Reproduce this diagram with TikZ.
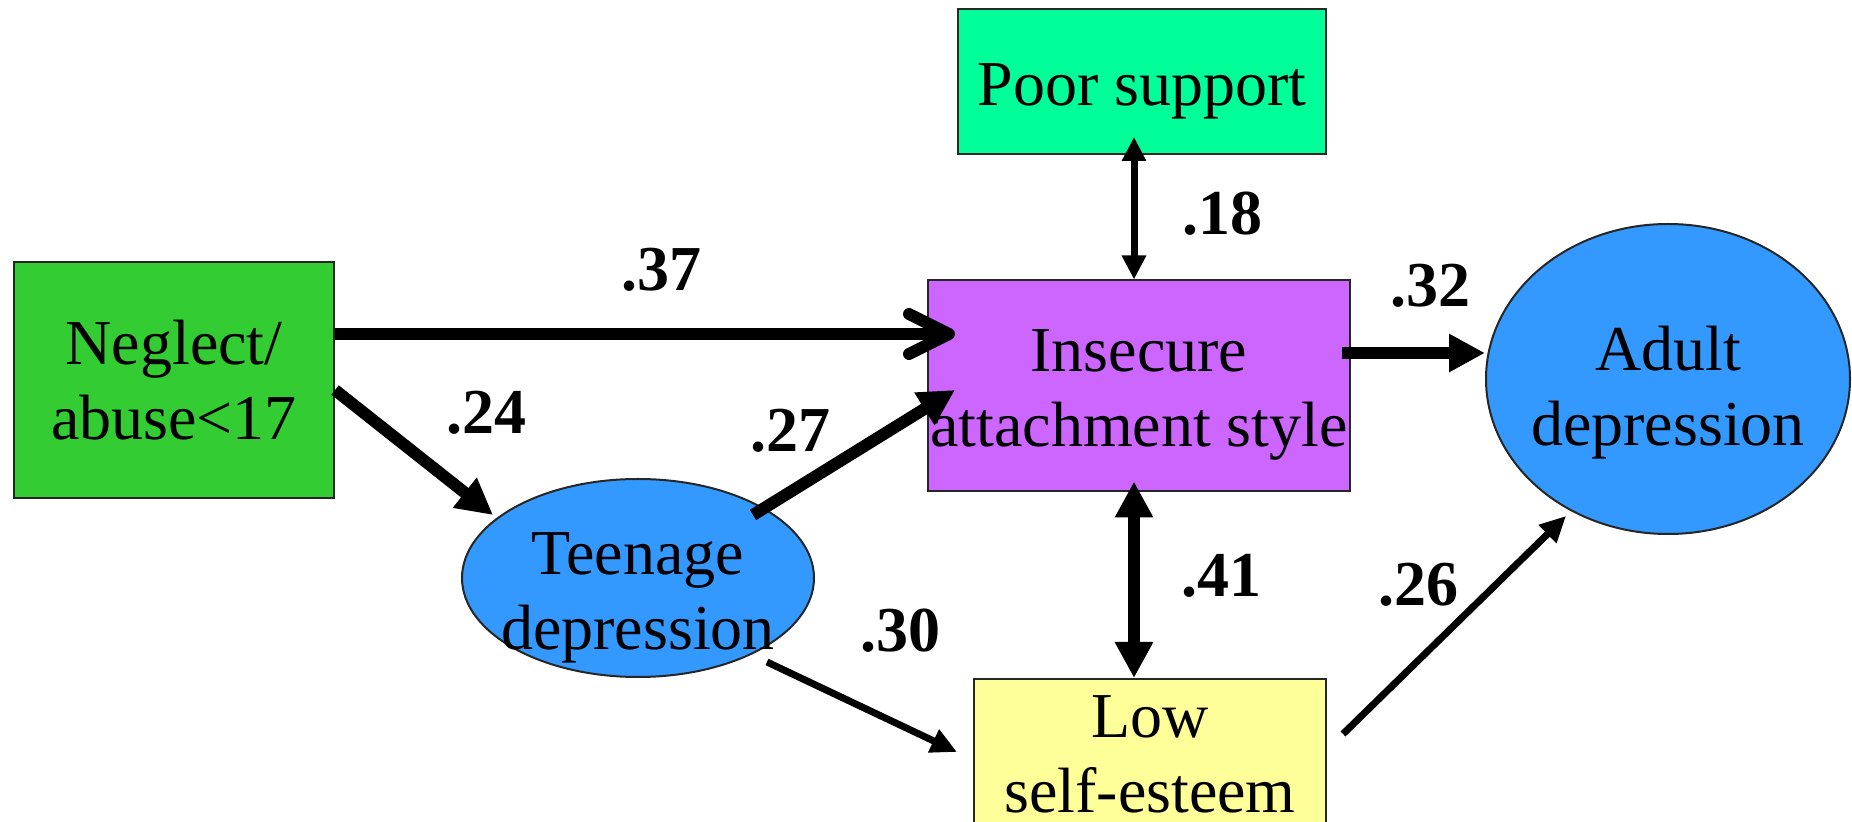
\documentclass[tikz,border=0pt]{standalone}
\usepackage{fontspec}
\setmainfont{Liberation Serif}
\usetikzlibrary{shapes.geometric,arrows.meta,calc}
\definecolor{cgreen}{HTML}{33CC33}
\definecolor{cmint}{HTML}{00FF99}
\definecolor{cviolet}{HTML}{CC66FF}
\definecolor{cblue}{HTML}{3399FF}
\definecolor{cyellow}{HTML}{FFFF99}
\begin{document}
\begin{tikzpicture}[x=0.5pt,y=-0.5pt,
  txt/.style={align=center,inner sep=0pt,font=\fontsize{32}{37.5}\selectfont},
  box/.style={txt,draw=black!85,line width=1pt,rectangle},
  oval/.style={draw=black!85,line width=1pt,ellipse,inner sep=0pt,fill=cblue},
  coef/.style={inner sep=0pt,font=\fontsize{32}{37.5}\selectfont\bfseries},
  openarrow/.style={line width=6pt,-{Straight Barb[length=20pt,width=20pt,round]}},
  bigarrow/.style={line width=6pt,-{Triangle[length=18pt,width=18pt]}},
  midarrow/.style={line width=3.5pt,-{Triangle[length=13pt,width=12pt]}},
  bigdouble/.style={line width=6pt,{Triangle[length=18pt,width=18pt]}-{Triangle[length=18pt,width=18pt]}},
  smalldouble/.style={line width=3.5pt,{Triangle[length=12pt,width=11.5pt]}-{Triangle[length=12pt,width=11.5pt]}}
]
\useasboundingbox (0,0) rectangle (1852,822);

% nodes
\node[box,fill=cgreen,minimum width=160pt,minimum height=118pt] (neg) at (174,380) {Neglect/\\abuse<17};
\node[box,fill=cmint,minimum width=184pt,minimum height=72.5pt] (poor) at (1142,81.5) {};
\node[txt] (poortext) at ($(poor.center)+(0,10)$) {Poor support};
\node[box,fill=cviolet,minimum width=211pt,minimum height=105.5pt] (ins) at (1139,386) {};
\node[txt] (instext) at ($(ins.center)+(0,9)$) {Insecure\\attachment style};
\node[box,fill=cyellow,minimum width=176pt,minimum height=75pt] (low) at (1150,754) {Low\\self-esteem};
\node[oval,minimum width=182pt,minimum height=155pt] (adult) at (1668,379) {};
\node[txt] (adulttext) at ($(adult.center)+(0,14)$) {Adult\\depression};
\node[oval,minimum width=176pt,minimum height=99pt] (teen) at (638,578) {};
\node[txt] (teentext) at ($(teen.center)+(0,20)$) {Teenage\\depression};

% connectors
\draw[openarrow] ($(neg.east)+(0,-46)$) -- ($(ins.west)+(28,-52)$);
\draw[bigarrow] ($(neg.east)+(0,10)$) -- ($(teen.center)+(-145,-63)$);
\draw[bigarrow] ($(teen.center)+(115,-63)$) -- ($(ins.west)+(28,4)$);
\draw[bigarrow] ($(ins.east)+(-9,-33)$) -- ($(adult.west)+(0,-26)$);
\draw[smalldouble] ($(poor.south)+(-8,-18)$) -- ($(ins.north)+(-5,0)$);
\draw[bigdouble] ($(ins.south)+(-5,-11)$) -- ($(low.north)+(-16,0)$);
\draw[midarrow] ($(teen.center)+(129,84)$) -- ($(low.west)+(-16,-2)$);
\draw[midarrow] ($(low.east)+(16,-20)$) -- ($(adult.center)+(-102,137)$);

% coefficients
\node[coef] (c37) at (661,270) {.37};
\node[coef] (c24) at (486,413) {.24};
\node[coef] (c27) at (790,431) {.27};
\node[coef] (c18) at (1222,214) {.18};
\node[coef] (c32) at (1430,286) {.32};
\node[coef] (c41) at (1221,576) {.41};
\node[coef] (c26) at (1418,585) {.26};
\node[coef] (c30) at (900,631) {.30};
\end{tikzpicture}
\end{document}
